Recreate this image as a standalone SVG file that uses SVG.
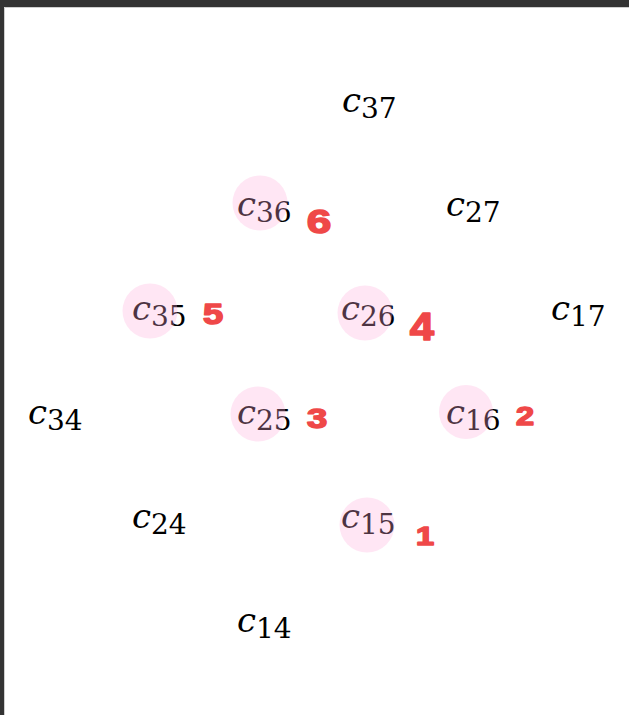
<svg xmlns="http://www.w3.org/2000/svg" width="629" height="715" viewBox="0 0 629 715">
<style>
.lbl{font-family:"DejaVu Serif","Liberation Serif",serif;fill:#000}
.c{font-style:italic;font-size:34px}
.s{font-size:28px}
.hl{fill:rgb(255,172,218);fill-opacity:0.3}
.num{font-family:"Liberation Sans","DejaVu Sans",sans-serif;font-weight:bold;fill:#ef4848;stroke:#ef4848;stroke-width:1.5;stroke-linejoin:round;text-anchor:middle}
</style>
<rect x="0" y="0" width="629" height="715" fill="#ffffff"/>
<rect x="0" y="0" width="629" height="7" fill="#333333"/>
<rect x="0" y="0" width="4" height="715" fill="#333333"/>
<line x1="4.5" y1="7.5" x2="629" y2="7.5" stroke="#cfcfcf" stroke-width="1"/>
<line x1="4.5" y1="7.5" x2="4.5" y2="715" stroke="#cfcfcf" stroke-width="1"/>
<g id="c37"><text class="lbl" x="342" y="112"><tspan class="c">c</tspan><tspan class="s" dy="6">37</tspan></text></g>
<g id="c36"><text class="lbl" x="237" y="216"><tspan class="c">c</tspan><tspan class="s" dy="6">36</tspan></text></g>
<g id="c27"><text class="lbl" x="446" y="216"><tspan class="c">c</tspan><tspan class="s" dy="6">27</tspan></text></g>
<g id="c35"><text class="lbl" x="132" y="320"><tspan class="c">c</tspan><tspan class="s" dy="6">35</tspan></text></g>
<g id="c26"><text class="lbl" x="341" y="320"><tspan class="c">c</tspan><tspan class="s" dy="6">26</tspan></text></g>
<g id="c17"><text class="lbl" x="551" y="320"><tspan class="c">c</tspan><tspan class="s" dy="6">17</tspan></text></g>
<g id="c34"><text class="lbl" x="28" y="424"><tspan class="c">c</tspan><tspan class="s" dy="6">34</tspan></text></g>
<g id="c25"><text class="lbl" x="237" y="424"><tspan class="c">c</tspan><tspan class="s" dy="6">25</tspan></text></g>
<g id="c16"><text class="lbl" x="446" y="424"><tspan class="c">c</tspan><tspan class="s" dy="6">16</tspan></text></g>
<g id="c24"><text class="lbl" x="132" y="528"><tspan class="c">c</tspan><tspan class="s" dy="6">24</tspan></text></g>
<g id="c15"><text class="lbl" x="341" y="528"><tspan class="c">c</tspan><tspan class="s" dy="6">15</tspan></text></g>
<g id="c14"><text class="lbl" x="237" y="632"><tspan class="c">c</tspan><tspan class="s" dy="6">14</tspan></text></g>
<g id="highlights">
<circle class="hl" cx="260" cy="203" r="27.5"/>
<circle class="hl" cx="150" cy="311" r="27.5"/>
<circle class="hl" cx="365" cy="313" r="27.5"/>
<circle class="hl" cx="466" cy="412" r="27"/>
<circle class="hl" cx="258" cy="414" r="27.5"/>
<circle class="hl" cx="367" cy="525" r="27.5"/>
</g>
<g id="order">
<text class="num" font-size="34" transform="translate(319,233) scale(1.3,1)">6</text>
<text class="num" font-size="29" transform="translate(213,324) scale(1.25,1)">5</text>
<text class="num" font-size="38" transform="translate(422,340) scale(1.15,1)">4</text>
<text class="num" font-size="28" transform="translate(317,428) scale(1.3,1)">3</text>
<text class="num" font-size="25" transform="translate(525,425) scale(1.3,1)">2</text>
<text class="num" font-size="25" transform="translate(425,545) scale(1.3,1)">1</text>
</g>
<g id="connectors"></g>
</svg>
